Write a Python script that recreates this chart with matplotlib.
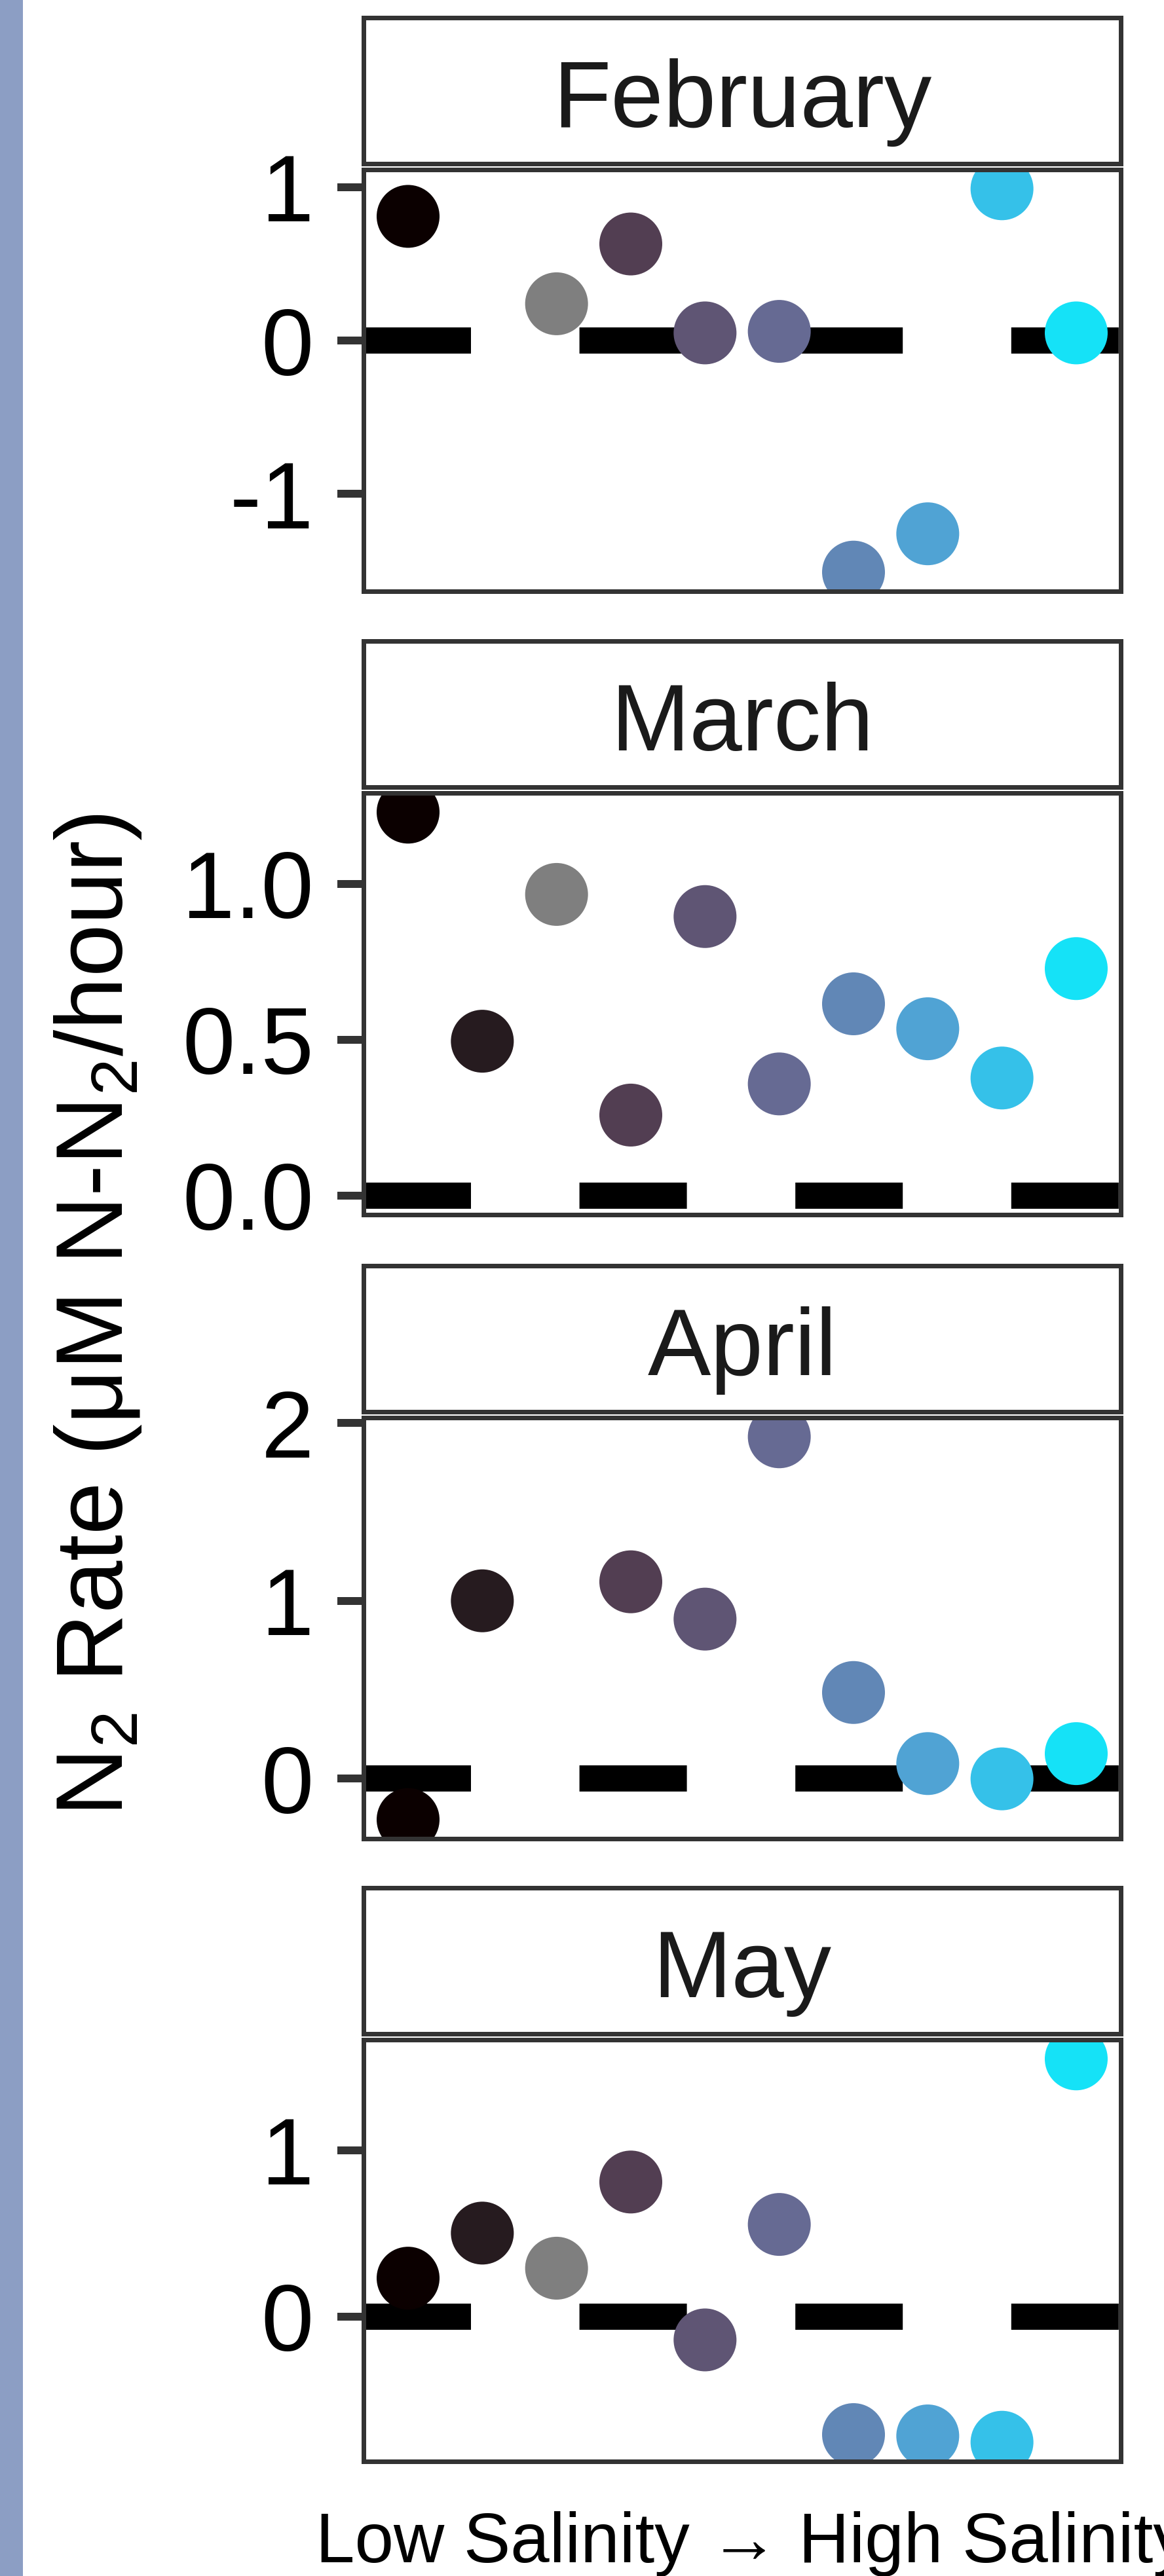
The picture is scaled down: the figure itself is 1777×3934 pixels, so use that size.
import numpy as np
import matplotlib
matplotlib.use('Agg')
import matplotlib.pyplot as plt
from matplotlib.patches import Rectangle

plt.rcParams['font.family'] = ['Liberation Sans', 'DejaVu Sans']
plt.rcParams['mathtext.fontset'] = 'custom'
plt.rcParams['mathtext.rm'] = 'Liberation Sans'
plt.rcParams['mathtext.it'] = 'Liberation Sans:italic'
plt.rcParams['mathtext.bf'] = 'Liberation Sans:bold'
plt.rcParams['axes.unicode_minus'] = False

# ---------------- data ----------------
months = ['February', 'March', 'April', 'May']
sites = [1, 2, 3, 4, 5, 6, 7, 8, 9, 10]
site_colors = ['#0B0000', '#261B1F', '#7F7F7F', '#523E52', '#5F5574',
               '#666A93', '#6187B6', '#50A3D4', '#35C1E9', '#15E2F7']
nan = np.nan
feb_rate = [0.81, nan, 0.24, 0.63, 0.05, 0.06, -1.51, -1.26, 0.99, 0.05]
mar_rate = [1.23, 0.495, 0.966, 0.258, 0.895, 0.358, 0.615, 0.535, 0.377, 0.728]
apr_rate = [-0.231, 1.0, nan, 1.107, 0.897, 1.923, 0.484, 0.084, -0.002, 0.140]
may_rate = [0.23, 0.501, 0.29, 0.808, -0.141, 0.553, -0.71, -0.718, -0.756, 1.548]
rates = [feb_rate, mar_rate, apr_rate, may_rate]

yticks = [[-1, 0, 1], [0.0, 0.5, 1.0], [0, 1, 2], [0, 1]]
ytick_labels = [['-1', '0', '1'], ['0.0', '0.5', '1.0'], ['0', '1', '2'], ['0', '1']]

y_title = r'N$_2$ Rate (μM N-N$_2$/hour)'
x_title = 'Low Salinity \u2192 High Salinity'

# ---------------- layout (pixels) ----------------
W, H = 1777, 3934
DPI = 100
PT = 72.0 / DPI  # points per pixel

panel_x = (555, 1711)
strips = [(27, 250), (979, 1202), (1933, 2156), (2883, 3106)]
plots = [(259, 903), (1211, 1855), (2165, 2808), (3115, 3759)]


def fig_rect(x0, x1, y0, y1):
    return [x0 / W, 1 - y1 / H, (x1 - x0) / W, (y1 - y0) / H]


fig = plt.figure(figsize=(W / DPI, H / DPI), dpi=DPI)
fig.patch.set_facecolor('white')

# left decorative band
fig.add_artist(Rectangle((0, 0), 35 / W, 1, transform=fig.transFigure,
                         facecolor='#8C9EC4', edgecolor='none', zorder=0))

border_col = '#333333'
border_lw = 7 * PT

for i, month in enumerate(months):
    # strip
    sx = fig.add_axes(fig_rect(panel_x[0], panel_x[1], *strips[i]))
    sx.set_xticks([])
    sx.set_yticks([])
    sx.set_facecolor('white')
    for sp in sx.spines.values():
        sp.set_color(border_col)
        sp.set_linewidth(border_lw)
    sx.text(0.5, 0.25, month, transform=sx.transAxes, ha='center',
            va='baseline', fontsize=104, color='#1A1A1A')

    # panel
    ax = fig.add_axes(fig_rect(panel_x[0], panel_x[1], *plots[i]))
    vals = np.array(rates[i], dtype=float)
    lo = min(np.nanmin(vals), 0.0)
    hi = max(np.nanmax(vals), 0.0)
    pad = 0.05 * (hi - lo)
    ax.set_ylim(lo - pad, hi + pad)
    ax.set_xlim(0.4, 10.6)

    ax.axhline(0, color='black', lw=40 * PT, dashes=(4.1, 4.14), zorder=1,
               solid_capstyle='butt', dash_capstyle='butt')
    ax.scatter(sites, vals, s=(96 * PT) ** 2, c=site_colors, linewidths=0,
               zorder=2)

    ax.set_xticks([])
    ax.set_yticks(yticks[i])
    ax.set_yticklabels(ytick_labels[i])
    ax.tick_params(axis='y', direction='out', length=40 * PT, width=12 * PT,
                   color=border_col, pad=26, labelsize=104, labelcolor='black')
    for sp in ax.spines.values():
        sp.set_color(border_col)
        sp.set_linewidth(border_lw)
        sp.set_zorder(3)

# axis titles
fig.text(150 / W, 1 - 2008 / H, y_title, rotation=90, ha='center',
         va='center', fontsize=104, color='black')
fig.text(482 / W, 1 - 3913 / H, x_title,
         ha='left', va='baseline', fontsize=77, color='black')

fig.savefig('out.png', dpi=DPI)
